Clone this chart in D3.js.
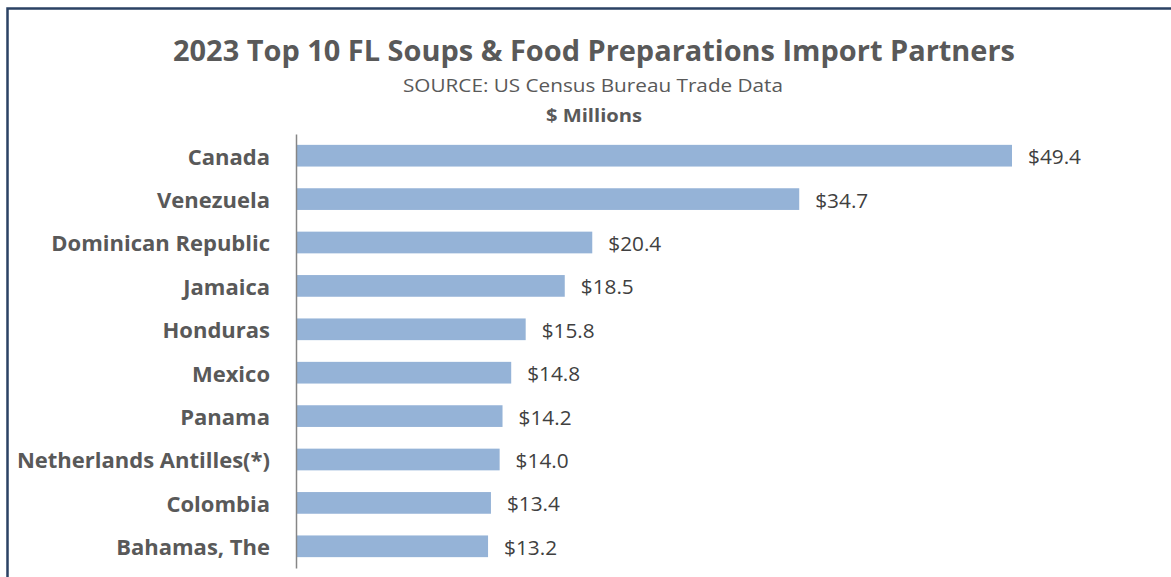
<!DOCTYPE html>
<html>
<head>
<meta charset="utf-8">
<script src="https://cdn.jsdelivr.net/npm/d3@7"></script>
<style>
  body { margin: 0; background: #fff; }
  svg { display: block; }
</style>
</head>
<body>
<svg id="chart" width="1171" height="577"></svg>
<script>
var countries = ["Canada", "Venezuela", "Dominican Republic", "Jamaica", "Honduras", "Mexico", "Panama", "Netherlands Antilles(*)", "Colombia", "Bahamas, The"]
var values = [49.4, 34.7, 20.4, 18.5, 15.8, 14.8, 14.2, 14.0, 13.4, 13.2]
var chartTitle = "2023 Top 10 FL Soups & Food Preparations Import Partners"
var subTitle = "SOURCE: US Census Bureau Trade Data"
var unitLabel = "$ Millions"

var width = 1171, height = 577
var margin = { left: 297, top: 134, bottom: 9 }
var font = "'Open Sans', 'Liberation Sans', sans-serif"

var svg = d3.select("#chart")

// frame
svg.append("path").attr("d", "M7.5," + height + "V8.5H" + width)
    .attr("fill", "none").attr("stroke", "#2b4264").attr("stroke-width", 2.5)

var data = countries.map((c, i) => ({ name: c, value: values[i] }))

var xScale = d3.scaleLinear().domain([0, 49.4]).range([margin.left, 1012])
var yScale = d3.scaleBand().domain(countries).range([margin.top, height - margin.bottom]).paddingInner(0.5).paddingOuter(0.25)

// titles
svg.append("text").attr("x", 594).attr("y", 61).attr("text-anchor", "middle")
    .attr("font-family", font).attr("font-weight", "bold").attr("font-size", 28).attr("fill", "#595959")
    .attr("textLength", 842).attr("lengthAdjust", "spacingAndGlyphs")
    .text(chartTitle)
svg.append("text").attr("x", 593).attr("y", 92).attr("text-anchor", "middle")
    .attr("font-family", font).attr("font-size", 18).attr("fill", "#595959")
    .attr("textLength", 380).attr("lengthAdjust", "spacingAndGlyphs")
    .text(subTitle)
svg.append("text").attr("x", 594).attr("y", 122).attr("text-anchor", "middle")
    .attr("font-family", font).attr("font-weight", "bold").attr("font-size", 18).attr("fill", "#595959")
    .attr("textLength", 96).attr("lengthAdjust", "spacingAndGlyphs")
    .text(unitLabel)

// bars
svg.selectAll(".bar").data(data).join("rect").attr("class", "bar")
    .attr("x", xScale(0)).attr("y", d => yScale(d.name))
    .attr("width", d => xScale(d.value) - xScale(0)).attr("height", yScale.bandwidth())
    .attr("fill", "#95b3d7")

// value labels
svg.selectAll(".val").data(data).join("text").attr("class", "val")
    .attr("x", d => xScale(d.value) + 16).attr("y", d => yScale(d.name) + yScale.bandwidth() / 2 + 1)
    .attr("dominant-baseline", "central")
    .attr("font-family", font).attr("font-size", 20).attr("fill", "#404040")
    .attr("textLength", 53).attr("lengthAdjust", "spacingAndGlyphs")
    .text(d => "$" + d.value.toFixed(1))

// y axis
var yAxis = d3.axisLeft(yScale).tickSize(0).tickPadding(26)
var gy = svg.append("g").attr("transform", "translate(" + (margin.left - 1) + ",0)").call(yAxis)
gy.select(".domain").attr("stroke", "#868686").attr("stroke-width", 1.5)
gy.selectAll(".tick text").attr("font-family", font).attr("font-weight", "bold")
    .attr("font-size", 22).attr("fill", "#595959").attr("dy", "0.4em")
</script>
</body>
</html>
